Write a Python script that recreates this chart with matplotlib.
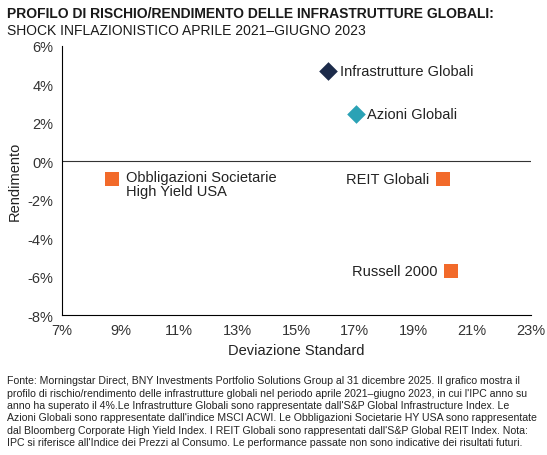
import matplotlib
matplotlib.use("Agg")
import matplotlib.pyplot as plt

names = ["Infrastrutture Globali", "Azioni Globali", "Obbligazioni Societarie\nHigh Yield USA", "REIT Globali", "Russell 2000"]
risk = [16.1, 17.05, 8.7, 20.0, 20.3]
ret = [4.7, 2.45, -0.9, -0.9, -5.7]
markers = ["D", "D", "s", "s", "s"]
colors = ["#1c2b4a", "#2ba2b5", "#f26a2a", "#f26a2a", "#f26a2a"]
xticks = [7, 9, 11, 13, 15, 17, 19, 21, 23]
yticks = [6, 4, 2, 0, -2, -4, -6, -8]

plt.rcParams['font.family'] = ['Liberation Sans', 'DejaVu Sans']
fig = plt.figure(figsize=(5.47, 4.56), dpi=100)
ax = fig.add_axes([0.113, 0.307, 0.857, 0.59])
for x, y, m, c in zip(risk, ret, markers, colors):
    ax.scatter(x, y, marker=m, s=90 if m == "D" else 100, color=c, zorder=3, linewidths=0)
offs = [(8, 0, "left", "center"), (8, 0, "left", "center"), (10, 0, "left", "top"), (-10, 0, "right", "center"), (-10, 0, "right", "center")]
for n, x, y, (dx, dy, ha, va) in zip(names, risk, ret, offs):
    yy = y + 0.45 if va == "top" else y
    ax.annotate(n, (x, yy), xytext=(dx, dy), textcoords="offset points", ha=ha, va=va, fontsize=10.5, color="#222222", linespacing=1.0)
ax.set_xlim(7, 23)
ax.set_ylim(-8, 6)
ax.set_xticks(xticks)
ax.set_xticklabels([f"{t}%" for t in xticks])
ax.set_yticks(yticks)
ax.set_yticklabels([f"{t}%" for t in yticks])
ax.axhline(0, color="#333333", lw=0.8)
for s in ["top", "right"]:
    ax.spines[s].set_visible(False)
ax.tick_params(labelsize=10.5, colors="#333333", length=0, pad=6)
ax.set_xlabel("Deviazione Standard", fontsize=10.5, color="#222222")
ax.set_ylabel("Rendimento", fontsize=10.5, color="#222222")
fig.text(0.012, 0.985, "PROFILO DI RISCHIO/RENDIMENTO DELLE INFRASTRUTTURE GLOBALI:", fontsize=10, fontweight="bold", va="top", color="#1a1a1a")
fig.text(0.012, 0.947, "SHOCK INFLAZIONISTICO APRILE 2021\u2013GIUGNO 2023", fontsize=10, va="top", color="#1a1a1a")
note = ("Fonte: Morningstar Direct, BNY Investments Portfolio Solutions Group al 31 dicembre 2025. Il grafico mostra il\n"
        "profilo di rischio/rendimento delle infrastrutture globali nel periodo aprile 2021\u2013giugno 2023, in cui l'IPC anno su\n"
        "anno ha superato il 4%.Le Infrastrutture Globali sono rappresentate dall'S&P Global Infrastructure Index. Le\n"
        "Azioni Globali sono rappresentate dall'indice MSCI ACWI. Le Obbligazioni Societarie HY USA sono rappresentate\n"
        "dal Bloomberg Corporate High Yield Index. I REIT Globali sono rappresentati dall'S&P Global REIT Index. Nota:\n"
        "IPC si riferisce all'Indice dei Prezzi al Consumo. Le performance passate non sono indicative dei risultati futuri.")
fig.text(0.012, 0.175, note, fontsize=7.6, va="top", color="#222222", linespacing=1.3)
fig.savefig("out.png", dpi=100)
